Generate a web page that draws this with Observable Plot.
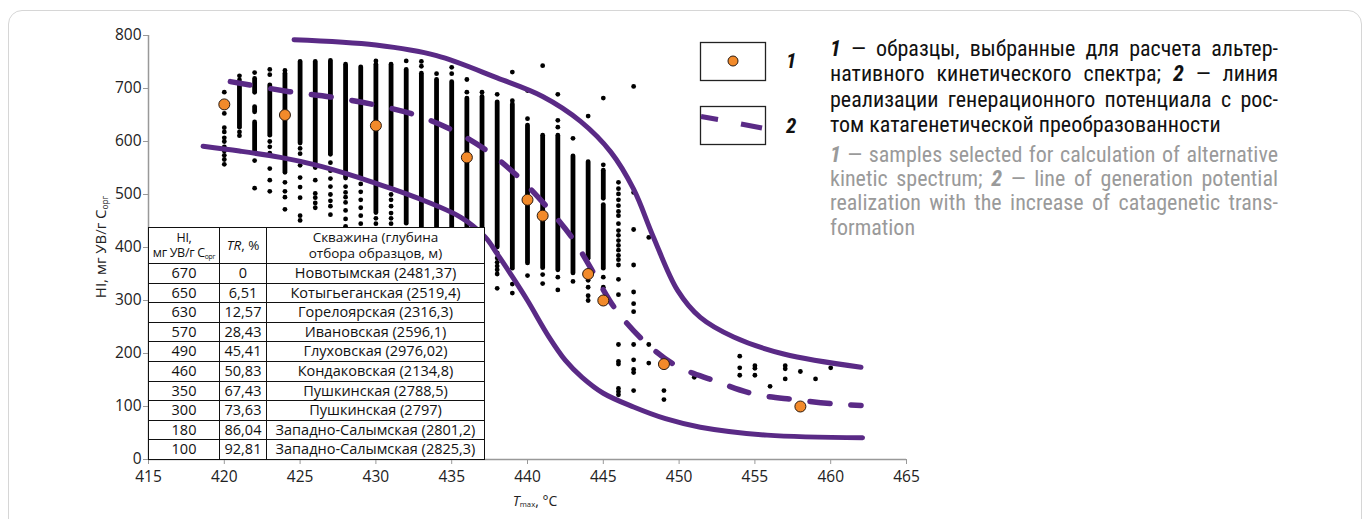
<!DOCTYPE html>
<html><head><meta charset="utf-8">
<script src="https://cdn.jsdelivr.net/npm/d3@7"></script>
<script src="https://cdn.jsdelivr.net/npm/@observablehq/plot@0.6"></script>
<style>
body{margin:0;width:1370px;height:519px;overflow:hidden;background:#fff;position:relative;font-family:"Open Sans",sans-serif;}
.card{position:absolute;left:8px;top:10px;width:1352px;height:600px;border:1.5px solid #d6d6d6;border-radius:14px;}
#chart{position:absolute;left:0;top:0;}
table.t{position:absolute;left:148px;top:227px;width:337px;height:233px;border-collapse:collapse;table-layout:fixed;background:#fff;font-family:"Open Sans",sans-serif;font-size:14.5px;color:#111;}
table.t td{border:1.6px solid #111;text-align:center;padding:0;line-height:1;white-space:nowrap;overflow:hidden;}
table.t tr.h td{height:35px;line-height:1.18;font-size:13.5px;}
table.t tr.h td.hi{font-size:12.5px;letter-spacing:-0.3px;}
.narrow{font-family:"Liberation Sans Narrow","Roboto Condensed","Open Sans",sans-serif;}
.ru div,.en div{text-align:justify;text-align-last:justify;white-space:nowrap;}
.ru div.last,.en div.last{text-align-last:left;}
.ru{position:absolute;left:830px;top:36px;width:448px;font-size:22px;line-height:25.3px;color:#111;}
.en{position:absolute;left:830px;top:143px;width:448px;font-size:22px;line-height:24.2px;color:#9a9a9a;}
.lab{position:absolute;font-size:15px;color:#222;white-space:nowrap;}
sub{font-size:55%;vertical-align:-0.25em;line-height:0;}
</style></head>
<body>
<div class="card"></div>
<div id="chart"></div>
<div id="tablewrap"></div>
<svg id="leg" style="position:absolute;left:0;top:0" width="830" height="160"></svg>
<div class="ru narrow">
<div><b><i>1</i></b> — образцы, выбранные для расчета альтер-</div>
<div>нативного кинетического спектра; <b><i>2</i></b> — линия</div>
<div>реализации генерационного потенциала с рос-</div>
<div class="last">том катагенетической преобразованности</div>
</div>
<div class="en narrow">
<div><b><i>1</i></b> — samples selected for calculation of alternative</div>
<div>kinetic spectrum; <b><i>2</i></b> — line of generation potential</div>
<div>realization with the increase of catagenetic trans-</div>
<div class="last">formation</div>
</div>
<div class="lab" style="left:100px;top:247px;transform:translate(-50%,-50%) rotate(-90deg);">HI, мг УВ/г C<sub>орг</sub></div>
<div class="lab" style="left:535px;top:500px;font-size:14px;transform:translate(-50%,-50%);"><i>T</i><sub>max</sub>, °C</div>
<script>
// axis ticks
const ticksX = [415, 420, 425, 430, 435, 440, 445, 450, 455, 460, 465];
const ticksY = [0, 100, 200, 300, 400, 500, 600, 700, 800];

// dense columns of samples (Tmax, HI from, HI to)
const denseT  = [421, 422, 422, 422, 423, 424, 425, 426, 427, 428, 429, 430, 431, 432, 433, 434, 435, 436, 437, 438, 439, 440, 441, 442, 443, 444, 445, 445];
const denseLo = [626, 692, 655, 580, 611, 541, 596, 550, 575, 530, 533, 465, 515, 445, 430, 430, 430, 430, 430, 400, 360, 370, 361, 357, 351, 379, 360, 492];
const denseHi = [706, 718, 665, 636, 706, 728, 750, 750, 752, 745, 740, 745, 745, 735, 728, 716, 712, 681, 684, 674, 670, 630, 611, 611, 572, 561, 480, 545];

// isolated samples per Tmax column
const scatterT = [420, 421, 422, 423, 424, 425, 426, 427, 428, 429, 430, 431, 432, 433, 434, 435, 436, 437, 438, 439, 440, 441, 442, 443, 444, 445, 446, 447, 448, 449, 451, 454, 455, 456, 457, 458, 459, 460];
const scatterHI = [
  [693, 653, 626, 618, 607, 600, 590, 582, 574, 566, 557],
  [724, 716, 618, 611],
  [730, 564, 512],
  [736, 726, 600, 590, 578, 549, 527, 506],
  [734, 523, 506, 495, 472],
  [587, 577, 555, 532, 514, 494, 460, 451],
  [527, 502, 494, 484, 475],
  [560, 545, 530, 515, 500, 488, 478, 462],
  [515, 504, 495, 485, 470, 454, 440],
  [520, 505, 490, 475, 460, 445],
  [752, 455, 445],
  [500, 490, 478, 465, 455, 445],
  [752],
  [751, 742],
  [728],
  [740, 728],
  [717, 693],
  [693],
  [689, 390, 380, 372, 365, 358, 350, 323],
  [731, 677, 331, 314],
  [696, 643, 347],
  [743, 349, 332],
  [689, 640, 627, 344, 320],
  [606, 336],
  [648, 338, 325, 309, 300],
  [682, 556, 344, 325],
  [523, 511, 501, 490, 479, 468, 460, 445, 432, 423, 413, 404, 395, 385, 377, 367, 340, 311, 217, 185, 180, 134, 128, 122],
  [704, 504, 434, 367, 316, 294, 279, 217, 188, 170, 164, 130],
  [419, 217, 182],
  [130, 113],
  [155],
  [195, 173, 159],
  [177, 172, 159],
  [138],
  [177, 171, 152],
  [166],
  [152],
  [173]
];

// selected samples (table)
const selTmax = [420, 424, 430, 436, 440, 441, 444, 445, 449, 458];
const selHI   = [670, 650, 630, 570, 490, 460, 350, 300, 180, 100];
const selTR   = ["0", "6,51", "12,57", "28,43", "45,41", "50,83", "67,43", "73,63", "86,04", "92,81"];
const selWell = ["Новотымская (2481,37)", "Котыгьеганская (2519,4)", "Горелоярская (2316,3)", "Ивановская (2596,1)", "Глуховская (2976,02)", "Кондаковская (2134,8)", "Пушкинская (2788,5)", "Пушкинская (2797)", "Западно-Салымская (2801,2)", "Западно-Салымская (2825,3)"];

// envelope curves and realization line
const upperT  = [424.6, 430, 434, 438, 441, 443.5, 445.5, 447, 448.3, 449.9, 451.4, 453.6, 456.9, 462];
const upperHI = [792, 782, 762, 720, 685, 638, 580, 510, 420, 319, 268, 231, 199, 174];
const lowerT  = [418.6, 421, 423.7, 426, 428.1, 430, 432.5, 435.6, 437.2, 438, 439, 440, 441.4, 442.5, 443.6, 445, 447, 449.1, 451.4, 455.8, 462.1];
const lowerHI = [591, 582, 570, 556, 539, 521, 496, 457, 420, 388, 345, 300, 232, 187, 155, 125, 99, 77, 61, 46, 41];
const dashT   = [420.4, 424.3, 427, 429.8, 432.5, 435, 437.3, 439.4, 441.3, 443, 444.4, 445.8, 447.7, 449.8, 452.3, 454.9, 457.6, 460.2, 462];
const dashHI  = [713, 694, 684, 670, 651, 622, 583, 533, 476, 416, 350, 284, 223, 177, 149, 124, 113, 105, 102];

const purple = "#5a2a86";
const orange = "#f28a2a";

const dense = denseT.map((t, i) => ({t, lo: denseLo[i], hi: denseHi[i]}));
const pts = scatterT.flatMap((t, i) => scatterHI[i].map(h => ({t, h})));
const sel = selTmax.map((t, i) => ({t, h: selHI[i]}));
const up = upperT.map((t, i) => ({t, h: upperHI[i]}));
const lo = lowerT.map((t, i) => ({t, h: lowerHI[i]}));
const da = dashT.map((t, i) => ({t, h: dashHI[i]}));

const chart = Plot.plot({
  width: 930, height: 519,
  marginLeft: 148, marginRight: 24, marginTop: 35, marginBottom: 60,
  style: {fontFamily: "Open Sans, sans-serif", fontSize: "15.5px", color: "#222", background: "transparent"},
  x: {domain: [415, 465], label: null},
  y: {domain: [0, 800], label: null},
  marks: [
    Plot.axisX({ticks: ticksX, tickSize: 5, tickPadding: 6, stroke: "#999", fill: "#222", label: null}),
    Plot.axisY({ticks: ticksY, tickSize: 5, tickPadding: 2, stroke: "#999", fill: "#222", label: null}),
    Plot.ruleX([415], {stroke: "#999", strokeWidth: 1.5}),
    Plot.ruleY([0], {stroke: "#999", strokeWidth: 1.5}),
    Plot.ruleX(dense, {x: "t", y1: "lo", y2: "hi", stroke: "#000", strokeWidth: 4.8, strokeLinecap: "round"}),
    Plot.dot(pts, {x: "t", y: "h", r: 2.4, fill: "#000"}),
    Plot.line(up, {x: "t", y: "h", stroke: purple, strokeWidth: 5, curve: "catmull-rom"}),
    Plot.line(lo, {x: "t", y: "h", stroke: purple, strokeWidth: 5, curve: "catmull-rom"}),
    Plot.line(da, {x: "t", y: "h", stroke: purple, strokeWidth: 5.5, curve: "catmull-rom", strokeDasharray: "20,21"}),
    Plot.dot(sel, {x: "t", y: "h", r: 5.5, fill: orange, stroke: "#2a1a10", strokeWidth: 1})
  ]
});
document.getElementById("chart").appendChild(chart);

// table of selected samples
let html = '<table class="t"><colgroup><col style="width:71px"><col style="width:47px"><col></colgroup><tr class="h"><td class="hi">HI,<br>мг УВ/г C<sub>орг</sub></td><td><i>TR</i>, %</td><td>Скважина (глубина<br>отбора образцов, м)</td></tr>';
selHI.forEach((h, i) => { html += `<tr><td>${h}</td><td>${selTR[i]}</td><td>${selWell[i]}</td></tr>`; });
html += '</table>';
document.getElementById("tablewrap").innerHTML = html;

// legend markers
const leg = d3.select("#leg");
leg.append("rect").attr("x", 700.5).attr("y", 42.5).attr("width", 65).attr("height", 38).attr("fill", "#fff").attr("stroke", "#222").attr("stroke-width", 1.3);
leg.append("circle").attr("cx", 733).attr("cy", 61).attr("r", 5).attr("fill", orange).attr("stroke", "#2a1a10");
leg.append("rect").attr("x", 700.5).attr("y", 106.5).attr("width", 65).attr("height", 38).attr("fill", "#fff").attr("stroke", "#222").attr("stroke-width", 1.3);
leg.append("line").attr("x1", 701).attr("y1", 116.5).attr("x2", 718).attr("y2", 119.5).attr("stroke", purple).attr("stroke-width", 5);
leg.append("line").attr("x1", 741).attr("y1", 124).attr("x2", 762).attr("y2", 128).attr("stroke", purple).attr("stroke-width", 5);
leg.append("text").attr("x", 786).attr("y", 68).text("1").attr("font-family", "Liberation Sans Narrow, Roboto Condensed, Open Sans, sans-serif").attr("font-size", 21).attr("font-weight", "bold").attr("font-style", "italic").attr("fill", "#111");
leg.append("text").attr("x", 786).attr("y", 133).text("2").attr("font-family", "Liberation Sans Narrow, Roboto Condensed, Open Sans, sans-serif").attr("font-size", 21).attr("font-weight", "bold").attr("font-style", "italic").attr("fill", "#111");
</script>
</body></html>
